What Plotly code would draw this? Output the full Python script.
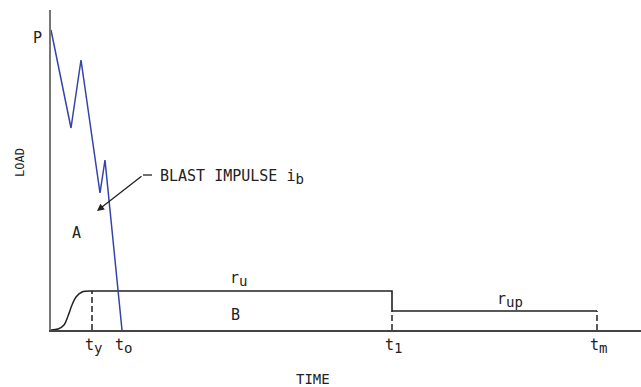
import plotly.graph_objects as go

# ---- data (arbitrary time / load units) ----
blast_t = [0.0, 2.0, 3.0, 4.9, 5.4, 7.1]
blast_p = [30.0, 20.2, 27.0, 13.7, 17.0, 0.0]

rise_t = [0.0, 0.7, 1.3, 1.7, 2.1, 2.5, 3.1, 4.1]
rise_r = [0.0, 0.1, 0.5, 1.4, 2.5, 3.3, 3.8, 3.9]

t_y, t_o, t_1, t_m = 4.1, 7.1, 34.1, 54.6
r_u, r_up = 3.9, 1.9
P = 29.2

SUB = "<sub><span style='font-size:14px'>{}</span></sub>"
time_labels = {"t" + SUB.format("y"): t_y, "t" + SUB.format("o"): t_o,
               "t" + SUB.format("1"): t_1, "t" + SUB.format("m"): t_m}

X_MAX, Y_MAX = 59.0, 32.0
FONT = "DejaVu Sans Mono"
INK = "#222222"
BLUE = "#3444a8"

fig = go.Figure()

# resistance rise (S curve)
fig.add_trace(go.Scatter(x=rise_t, y=rise_r, mode="lines", line=dict(color=INK, width=1.5, shape="spline"),
                         hoverinfo="skip"))
# resistance plateau and step
fig.add_trace(go.Scatter(x=[t_y, t_1, t_1, t_m], y=[r_u, r_u, r_up, r_up], mode="lines",
                         line=dict(color=INK, width=1.6), hoverinfo="skip"))
# dashed verticals
for tv, top in [(t_y, r_u), (t_1, r_up), (t_m, r_up)]:
    fig.add_trace(go.Scatter(x=[tv, tv], y=[0, top], mode="lines",
                             line=dict(color=INK, width=1.5, dash="6px,3px"), hoverinfo="skip"))
# blast load
fig.add_trace(go.Scatter(x=blast_t, y=blast_p, mode="lines", line=dict(color=BLUE, width=1.5),
                         hoverinfo="skip"))
# leader line
fig.add_trace(go.Scatter(x=[10.1, 9.2], y=[15.5, 15.5], mode="lines", line=dict(color=INK, width=1.3),
                         hoverinfo="skip"))

def lab(x, y, text, size=15, ref="data", **kw):
    d = dict(x=x, y=y, text=text, showarrow=False, xanchor="center", yanchor="middle",
             font=dict(family=FONT, size=size, color=INK))
    if ref == "paper":
        d.update(xref="paper", yref="paper")
    d.update(kw)
    return d

ann = []
ann.append(dict(x=4.6, y=11.9, ax=9.2, ay=15.5, xref="x", yref="y", axref="x", ayref="y",
                text="", showarrow=True, arrowhead=2, arrowsize=1.1, arrowwidth=1.3, arrowcolor=INK))
ann.append(lab(10.7, 15.3, "BLAST IMPULSE i" + SUB.format("b"), xanchor="left"))
ann.append(lab(2.55, 9.7, "A"))
ann.append(lab(18.4, 1.5, "B"))
ann.append(lab(18.7, 5.1, "r" + SUB.format("u")))
ann.append(lab(45.9, 3.0, "r" + SUB.format("up")))

# labels outside the plot area (paper coordinates)
ann.append(lab(-0.0237, P / Y_MAX, "P", ref="paper"))
for text, tv in time_labels.items():
    ann.append(lab(tv / X_MAX + 0.002, -0.05, text, ref="paper"))
ann.append(lab(0.444, -0.153, "TIME", size=14, ref="paper"))
ann.append(lab(-0.0525, 0.522, "LOAD", size=12, ref="paper", textangle=-90))

fig.update_layout(
    width=641, height=387,
    margin=dict(l=51, r=0, t=10, b=57),
    paper_bgcolor="white", plot_bgcolor="white",
    showlegend=False,
    annotations=ann,
    xaxis=dict(range=[0, X_MAX], showgrid=False, zeroline=False, showticklabels=False, ticks="",
               showline=True, linecolor="#444444", linewidth=2, fixedrange=True),
    yaxis=dict(range=[0, Y_MAX], showgrid=False, zeroline=False, showticklabels=False, ticks="",
               showline=True, linecolor="#777777", linewidth=2, fixedrange=True),
)

fig.write_html("out.html", config={"displayModeBar": False},
               post_script="document.body.style.margin='0';")
